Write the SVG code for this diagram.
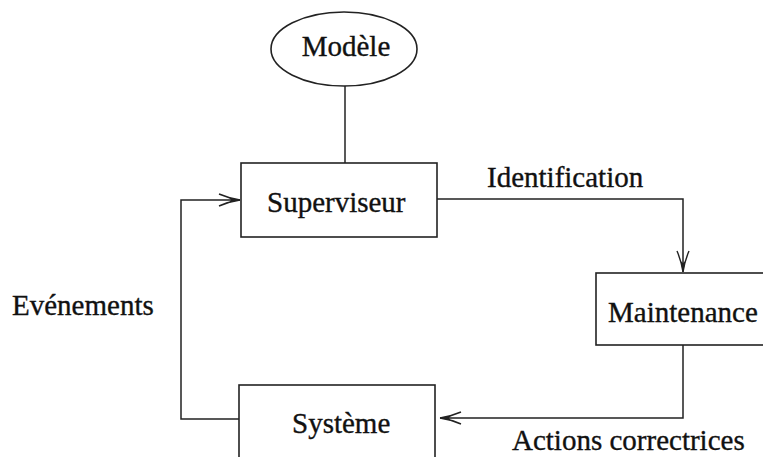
<svg xmlns="http://www.w3.org/2000/svg" width="763" height="457" viewBox="0 0 763 457">
  <style>
    .box { fill: #fff; stroke: #222; stroke-width: 1.6; }
    .wire { fill: none; stroke: #222; stroke-width: 1.5; }
    .lbl { font-family: "Liberation Serif", "Times New Roman", serif; font-size: 29px; fill: #111; stroke: #111; stroke-width: 0.35; }
    .mid { text-anchor: middle; }
  </style>
  <defs>
    <!-- thin curved-barb arrowhead -->
    <marker id="arrow" markerUnits="userSpaceOnUse" markerWidth="30" markerHeight="20" viewBox="-24 -10 26 20" refX="0" refY="0" orient="auto">
      <path d="M0,0 C-7,-1 -14,-3 -21,-6 M0,0 C-7,1 -14,3 -21,6" fill="none" stroke="#222" stroke-width="1.4"/>
      <path d="M0,0 L-11,-2.6 L-9,0 L-11,2.6 Z" fill="#222"/>
    </marker>
  </defs>

  <rect width="763" height="457" fill="#fff"/>

  <g id="connectors">
    <line class="wire" x1="345" y1="86" x2="345" y2="163"/>
    <polyline class="wire" points="437,199 683,199 683,272" marker-end="url(#arrow)"/>
    <polyline class="wire" points="683,345 683,418 440,418" marker-end="url(#arrow)"/>
    <polyline class="wire" points="239,419 181,419 181,200 240,200" marker-end="url(#arrow)"/>
  </g>

  <g id="modele">
    <ellipse class="box" cx="344" cy="49" rx="73" ry="37"/>
    <text class="lbl mid" x="346" y="56">Modèle</text>
  </g>

  <g id="superviseur">
    <rect class="box" x="241" y="163" width="196" height="74"/>
    <text class="lbl" x="267" y="212">Superviseur</text>
  </g>

  <g id="maintenance">
    <rect class="box" x="596" y="273" width="175" height="72"/>
    <text class="lbl" x="608" y="322">Maintenance</text>
  </g>

  <g id="systeme">
    <rect class="box" x="239" y="385" width="196" height="80"/>
    <text class="lbl" x="292" y="433">Système</text>
  </g>

  <g id="labels">
    <text class="lbl" x="487" y="187">Identification</text>
    <text class="lbl" x="12" y="315">Evénements</text>
    <text class="lbl" x="512" y="450">Actions correctrices</text>
  </g>
</svg>
